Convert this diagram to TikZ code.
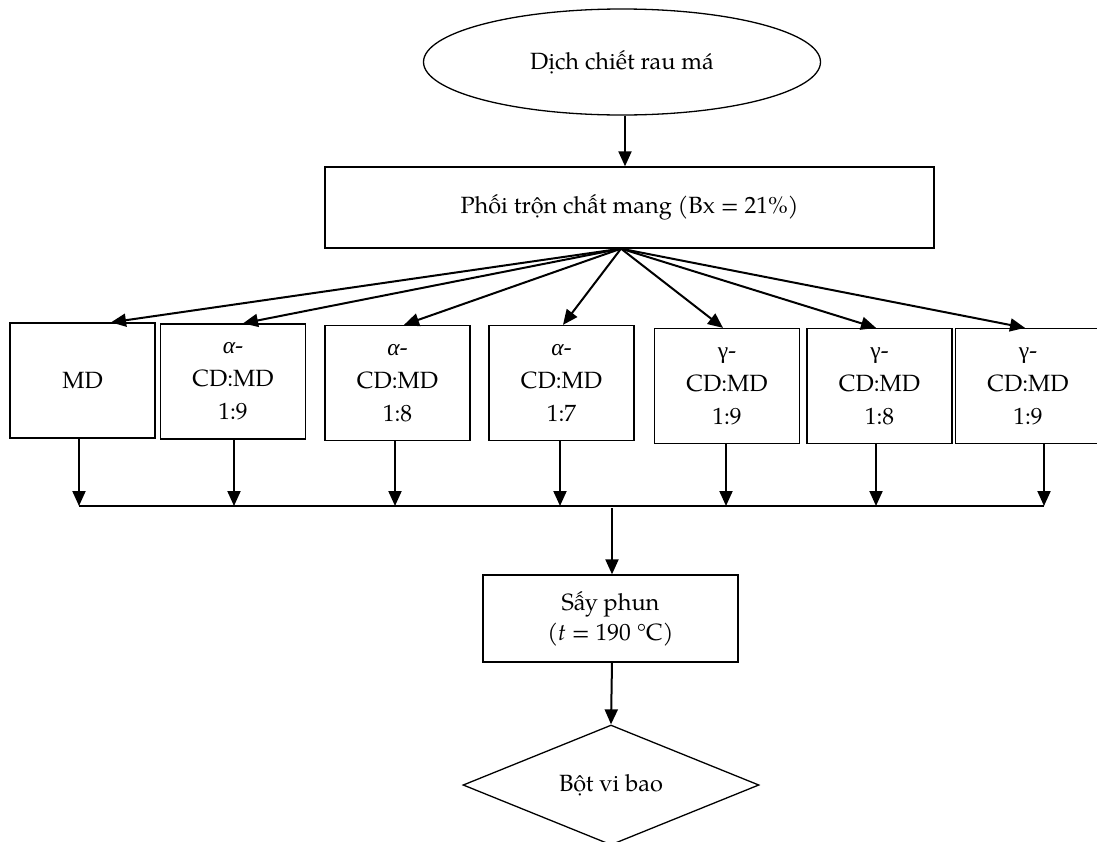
\documentclass[tikz,border=0pt]{standalone}
\usepackage{fontspec}
\setmainfont{TeX Gyre Pagella}
\newfontfamily\greekfont{Liberation Serif}
\usetikzlibrary{shapes.geometric,arrows.meta}
\newcommand{\galpha}{{\greekfont\itshape α}}
\newcommand{\ggamma}{{\greekfont γ}}
\begin{document}
\begin{tikzpicture}[x=1pt,y=-1pt,
  txt/.style={font=\fontsize{23.5}{33}\selectfont},
  box/.style={draw, line width=1.3pt, align=center, inner sep=0pt, txt},
  ratio/.style={box, minimum width=145pt, minimum height=115pt},
  flow/.style={line width=2pt, -{Triangle[length=15pt,width=13pt]}},
  busline/.style={line width=1.5pt}]
\useasboundingbox (0,0) rectangle (1097,841);

% source and mixing step
\node[ellipse, draw, line width=1.3pt, inner sep=0pt, txt,
      minimum width=397pt, minimum height=106pt] (src) at (622,62) {Dịch chiết rau má};
\node[box, minimum width=609pt, minimum height=81pt] (mix) at (629.5,207.5)
      {Phối trộn chất mang (Bx = 21\%)};
\draw[flow] ([xshift=3pt]src.south) -- ([xshift=-4.5pt]mix.north);

% carrier ratios
\node[ratio] (b1) at (82.5,380.5) {MD};
\node[ratio] (b2) at (233,381.5)  {\galpha-\\CD:MD\\1:9};
\node[ratio] (b3) at (397.5,383)  {\galpha-\\CD:MD\\1:8};
\node[ratio] (b4) at (561.5,383)  {\galpha-\\CD:MD\\1:7};
\node[ratio] (b5) at (727,386)    {\ggamma-\\CD:MD\\1:9};
\node[ratio] (b6) at (879.5,386)  {\ggamma-\\CD:MD\\1:8};
\node[ratio] (b7) at (1028,386)   {\ggamma-\\CD:MD\\1:9};

\coordinate (fan) at ([xshift=-8.5pt]mix.south);
\draw[flow] (fan) -- ([xshift=28.5pt]b1.north);
\draw[flow] (fan) -- ([xshift=10pt]b2.north);
\draw[flow] (fan) -- ([xshift=6.5pt]b3.north);
\draw[flow] (fan) -- ([xshift=1.5pt]b4.north);
\draw[flow] (fan) -- ([xshift=-4pt]b5.north);
\draw[flow] (fan) -- ([xshift=-3.5pt]b6.north);
\draw[flow] (fan) -- ([xshift=-3pt]b7.north);

% collecting bus
\coordinate (barL) at (79,506);
\coordinate (barR) at (1044,506);
\path ([xshift=-3.5pt]b1.south) coordinate (t1)
      ([xshift=1pt]b2.south)    coordinate (t2)
      ([xshift=-2.5pt]b3.south) coordinate (t3)
      ([xshift=-1.5pt]b4.south) coordinate (t4)
      ([xshift=-1pt]b5.south)   coordinate (t5)
      ([xshift=-3.5pt]b6.south) coordinate (t6)
      ([xshift=16pt]b7.south)   coordinate (t7);
\foreach \t in {t1,t2,t3,t4,t5,t6,t7}
  \draw[flow] (\t) -- (\t |- barL);
\draw[busline] (barL) -- (barR);

% spray drying and product
\node[box, minimum width=255pt, minimum height=87pt,
      font=\fontsize{23.5}{30}\selectfont] (dry) at (610.5,618.5)
      {Sấy phun\\(\textit{t} = 190 °C)};
\coordinate (join) at (612,508);
\draw[flow] (join) -- (join |- dry.north);

\node[diamond, draw, line width=1.3pt, inner sep=0pt, txt, aspect=2.47,
      minimum width=296pt, minimum height=120pt] (out) at (611,785) {Bột vi bao};
\draw[flow] ([xshift=1.5pt]dry.south) -- (out.north);
\end{tikzpicture}
\end{document}
